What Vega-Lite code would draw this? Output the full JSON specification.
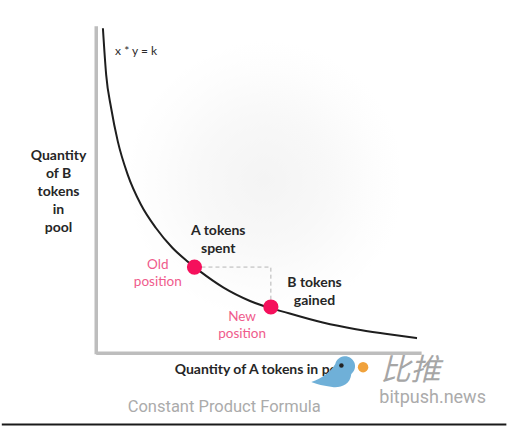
{
  "$schema": "https://vega.github.io/schema/vega-lite/v6.json",
  "autosize": {"type": "fit", "contains": "padding"},
  "width": 508,
  "height": 426,
  "padding": 0,
  "background": "#ffffff",
  "config": {"view": {"stroke": null}},
  "datasets": {
    "glow": [{"x": 10, "x2": 94, "y": 10, "y2": 96}],
    "axes": [
      {"x": 0, "y": -0.3, "x2": 0, "y2": 100.5},
      {"x": 0, "y": 0, "x2": 100.6, "y2": 0}
    ],
    "border": [{"x": -29.2, "y": -21.9, "x2": 126.8, "y2": -21.9}],
    "curve": [
      {"a": 2.06, "b": 99.91},
      {"a": 3.07, "b": 85.58},
      {"a": 4.6, "b": 75.37},
      {"a": 6.66, "b": 65.12},
      {"a": 9.72, "b": 54.91},
      {"a": 13.8, "b": 45.71},
      {"a": 18.4, "b": 38.56},
      {"a": 23.53, "b": 32.42},
      {"a": 28.13, "b": 28.28},
      {"a": 32.21, "b": 25.06},
      {"a": 39.36, "b": 20.15},
      {"a": 47.55, "b": 16.04},
      {"a": 59.82, "b": 12.18},
      {"a": 70.03, "b": 9.42},
      {"a": 80.28, "b": 7.36},
      {"a": 90.49, "b": 5.83},
      {"a": 99.17, "b": 4.6}
    ],
    "dash": [
      {"step": 1, "a": 30.37, "b": 26.47},
      {"step": 2, "a": 53.99, "b": 26.47},
      {"step": 3, "a": 53.99, "b": 16.3}
    ],
    "positions": [
      {"name": "Old position", "a": 30.37, "b": 26.47},
      {"name": "New position", "a": 53.99, "b": 14.2}
    ],
    "darkLabels": [
      {"a": -11.66, "b": 60.74, "label": "Quantity\nof B\ntokens\nin\npool"},
      {"a": 37.73, "b": 37.42, "label": "A tokens\nspent"},
      {"a": 67.48, "b": 21.47, "label": "B tokens\ngained"},
      {"a": 51.23, "b": -5.21, "label": "Quantity of A tokens in pool"}
    ],
    "pinkLabels": [
      {"a": 19.02, "b": 26.99, "label": "Old\nposition"},
      {"a": 45.09, "b": 11.04, "label": "New\nposition"}
    ],
    "formula": [{"a": 5.83, "b": 92.9, "label": "x * y = k"}],
    "caption": [{"a": 39.57, "b": -16.56, "label": "Constant Product Formula"}],
    "wmCn": [{"a": 97.2, "b": -5.6, "label": "比推"}],
    "wmEn": [{"a": 104.0, "b": -13.9, "label": "bitpush.news"}],
    "bird": [{"a": 73.6, "b": -6.4}],
    "eye": [{"a": 75.8, "b": -3.8}],
    "coin": [{"a": 82.5, "b": -4.3}]
  },
  "layer": [
    {
      "data": {"name": "glow"},
      "mark": {"type": "rect", "fill": {"gradient": "radial", "stops": [{"offset": 0, "color": "#f4f4f4"}, {"offset": 0.45, "color": "#f8f8f8"}, {"offset": 0.8, "color": "#fdfdfd"}, {"offset": 1, "color": "#ffffff"}]}},
      "encoding": {
        "x": {"field": "x", "type": "quantitative", "scale": {"domain": [-29.14, 126.69], "nice": false, "zero": false}, "axis": null},
        "x2": {"field": "x2"},
        "y": {"field": "y", "type": "quantitative", "scale": {"domain": [-22.09, 108.59], "nice": false, "zero": false}, "axis": null},
        "y2": {"field": "y2"}
      }
    },
    {
      "data": {"name": "axes"},
      "mark": {"type": "rule", "color": "#bdbdbd", "strokeWidth": 3.5},
      "encoding": {
        "x": {"field": "x", "type": "quantitative"},
        "x2": {"field": "x2"},
        "y": {"field": "y", "type": "quantitative"},
        "y2": {"field": "y2"}
      }
    },
    {
      "data": {"name": "border"},
      "mark": {"type": "rule", "color": "#1a1a1a", "strokeWidth": 2, "clip": false},
      "encoding": {
        "x": {"field": "x", "type": "quantitative"},
        "x2": {"field": "x2"},
        "y": {"field": "y", "type": "quantitative"},
        "y2": {"field": "y2"}
      }
    },
    {
      "data": {"name": "curve"},
      "mark": {"type": "line", "color": "#1e1e1e", "strokeWidth": 2, "interpolate": "monotone"},
      "encoding": {
        "x": {"field": "a", "type": "quantitative"},
        "y": {"field": "b", "type": "quantitative"}
      }
    },
    {
      "data": {"name": "dash"},
      "mark": {"type": "line", "color": "#b5b5b5", "strokeWidth": 1, "strokeDash": [4, 3]},
      "encoding": {
        "x": {"field": "a", "type": "quantitative"},
        "y": {"field": "b", "type": "quantitative"},
        "order": {"field": "step"}
      }
    },
    {
      "data": {"name": "positions"},
      "mark": {"type": "point", "filled": true, "shape": "circle", "size": 230, "color": "#f5105c", "opacity": 1},
      "encoding": {
        "x": {"field": "a", "type": "quantitative"},
        "y": {"field": "b", "type": "quantitative"}
      }
    },
    {
      "data": {"name": "darkLabels"},
      "mark": {"type": "text", "font": "Lato", "fontWeight": "bold", "fontSize": 14, "color": "#262626", "align": "center", "baseline": "middle", "lineBreak": "\n", "lineHeight": 18},
      "encoding": {
        "x": {"field": "a", "type": "quantitative"},
        "y": {"field": "b", "type": "quantitative"},
        "text": {"field": "label"}
      }
    },
    {
      "data": {"name": "pinkLabels"},
      "mark": {"type": "text", "font": "Lato", "fontSize": 13.5, "color": "#ef5b8c", "align": "center", "baseline": "middle", "lineBreak": "\n", "lineHeight": 17},
      "encoding": {
        "x": {"field": "a", "type": "quantitative"},
        "y": {"field": "b", "type": "quantitative"},
        "text": {"field": "label"}
      }
    },
    {
      "data": {"name": "formula"},
      "mark": {"type": "text", "font": "Lato", "fontSize": 12, "color": "#2b2b2b", "align": "left", "baseline": "middle"},
      "encoding": {
        "x": {"field": "a", "type": "quantitative"},
        "y": {"field": "b", "type": "quantitative"},
        "text": {"field": "label"}
      }
    },
    {
      "data": {"name": "caption"},
      "mark": {"type": "text", "font": "Roboto", "fontSize": 16.5, "color": "#ababab", "align": "center", "baseline": "middle"},
      "encoding": {
        "x": {"field": "a", "type": "quantitative"},
        "y": {"field": "b", "type": "quantitative"},
        "text": {"field": "label"}
      }
    },
    {
      "data": {"name": "bird"},
      "mark": {"type": "point", "filled": true, "shape": "M -1.15 0.4 C -0.6 0.2 -0.2 -0.1 0.05 -0.5 A 0.5 0.5 0 1 1 0.85 0 C 0.8 0.55 0.3 0.7 -0.1 0.65 C -0.5 0.6 -0.9 0.5 -1.15 0.4 Z", "size": 1600, "color": "#6fb0d8", "opacity": 1},
      "encoding": {
        "x": {"field": "a", "type": "quantitative"},
        "y": {"field": "b", "type": "quantitative"}
      }
    },
    {
      "data": {"name": "eye"},
      "mark": {"type": "point", "filled": true, "shape": "circle", "size": 20, "color": "#222222", "opacity": 1},
      "encoding": {
        "x": {"field": "a", "type": "quantitative"},
        "y": {"field": "b", "type": "quantitative"}
      }
    },
    {
      "data": {"name": "coin"},
      "mark": {"type": "point", "filled": true, "shape": "circle", "size": 110, "color": "#f0a23c", "opacity": 1},
      "encoding": {
        "x": {"field": "a", "type": "quantitative"},
        "y": {"field": "b", "type": "quantitative"}
      }
    },
    {
      "data": {"name": "wmCn"},
      "mark": {"type": "text", "font": "Noto Sans CJK SC", "fontSize": 30, "fontStyle": "italic", "color": "#a6a6a6", "align": "center", "baseline": "middle"},
      "encoding": {
        "x": {"field": "a", "type": "quantitative"},
        "y": {"field": "b", "type": "quantitative"},
        "text": {"field": "label"}
      }
    },
    {
      "data": {"name": "wmEn"},
      "mark": {"type": "text", "font": "Roboto", "fontSize": 18, "color": "#ababab", "align": "center", "baseline": "middle"},
      "encoding": {
        "x": {"field": "a", "type": "quantitative"},
        "y": {"field": "b", "type": "quantitative"},
        "text": {"field": "label"}
      }
    }
  ]
}
